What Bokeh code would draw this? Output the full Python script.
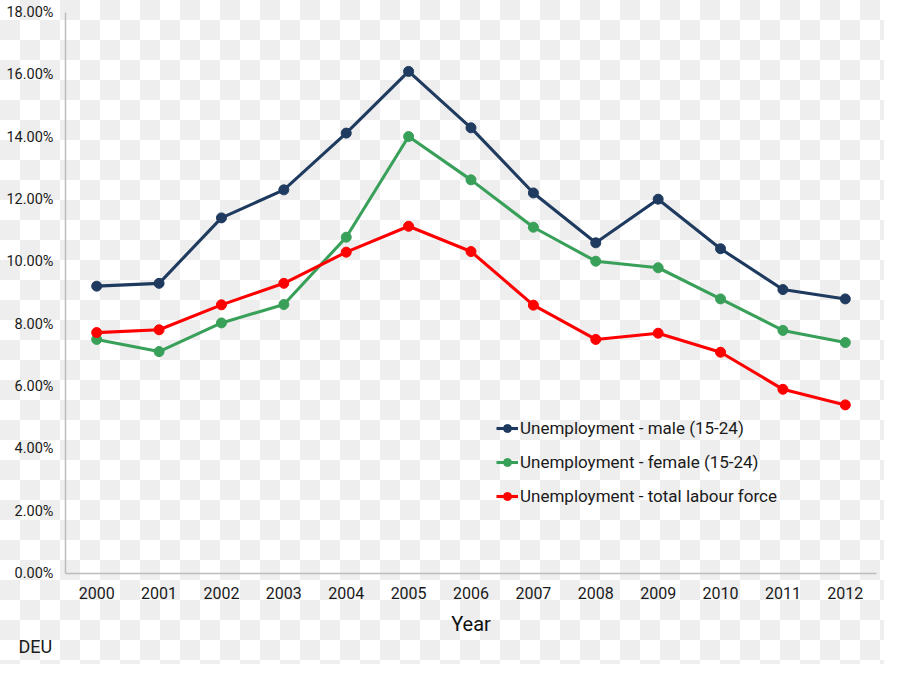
from bokeh.plotting import figure
from bokeh.models import FactorRange, Range1d, FixedTicker, PrintfTickFormatter, Title
from bokeh.embed import file_html
from bokeh.resources import INLINE

years = ["2000", "2001", "2002", "2003", "2004", "2005", "2006",
         "2007", "2008", "2009", "2010", "2011", "2012"]
male = [9.22, 9.31, 11.41, 12.31, 14.13, 16.11, 14.30, 12.21, 10.61, 12.01, 10.42, 9.11, 8.81]
female = [7.51, 7.12, 8.04, 8.63, 10.79, 14.02, 12.63, 11.11, 10.02, 9.81, 8.81, 7.80, 7.41]
total = [7.73, 7.82, 8.62, 9.31, 10.31, 11.14, 10.33, 8.61, 7.51, 7.71, 7.10, 5.91, 5.41]
y_ticks = [0, 2, 4, 6, 8, 10, 12, 14, 16, 18]

series = [
    ("Unemployment - male (15-24)", male, "#1f3a5f"),
    ("Unemployment - female (15-24)", female, "#39a05a"),
    ("Unemployment - total labour force", total, "#ff0000"),
]

FONT = "Roboto"

p = figure(width=884, height=664, output_backend="svg", toolbar_location=None,
           x_range=FactorRange(*years, range_padding=0), y_range=Range1d(0, 18),
           min_border_left=65, min_border_right=8, min_border_top=12, min_border_bottom=91)

p.styles = {
    "background": "repeating-conic-gradient(#eeeeee 0% 25%, #ffffff 0% 50%) 0px 0px / 40px 40px",
}
p.border_fill_alpha = 0
p.background_fill_alpha = 0
p.outline_line_color = None
p.grid.visible = False

for name, vals, col in series:
    p.line(years, vals, line_color=col, line_width=3.1, legend_label=name)
    p.scatter(years, vals, size=10, fill_color=col, line_color=col, legend_label=name)

for ax in (p.xaxis[0], p.yaxis[0]):
    ax.axis_line_color = "#bdbdbd"
    ax.axis_line_width = 1.5
    ax.major_tick_line_color = None
    ax.minor_tick_line_color = None
    ax.major_tick_out = 0
    ax.major_tick_in = 0
    ax.minor_tick_out = 0
    ax.minor_tick_in = 0
    ax.major_label_text_font = FONT
    ax.major_label_text_color = "#1a1a1a"

p.yaxis.ticker = FixedTicker(ticks=y_ticks)
p.yaxis.formatter = PrintfTickFormatter(format="%.2f%%")
p.yaxis.major_label_text_font_size = "14.5px"
p.yaxis.major_label_standoff = 12

p.xaxis.major_label_text_font_size = "16px"
p.xaxis.major_label_standoff = 13
p.xaxis.axis_label = "Year"
p.xaxis.axis_label_text_font = FONT
p.xaxis.axis_label_text_font_style = "normal"
p.xaxis.axis_label_text_font_size = "20px"
p.xaxis.axis_label_text_color = "#111111"
p.xaxis.axis_label_standoff = 10

lg = p.legend[0]
lg.location = (431, 67)
lg.background_fill_alpha = 0
lg.border_line_color = None
lg.label_text_font = FONT
lg.label_text_font_size = "17px"
lg.label_text_color = "#1a1a1a"
lg.glyph_width = 22
lg.glyph_height = 20
lg.label_height = 20
lg.spacing = 14
lg.label_standoff = 2
lg.padding = 10

p.add_layout(Title(text="DEU", align="left", offset=-47, standoff=-10,
                   text_font=FONT, text_font_size="18px", text_font_style="normal",
                   text_color="#1a1a1a"), "below")

open("out.html", "w").write(file_html(p, INLINE))
